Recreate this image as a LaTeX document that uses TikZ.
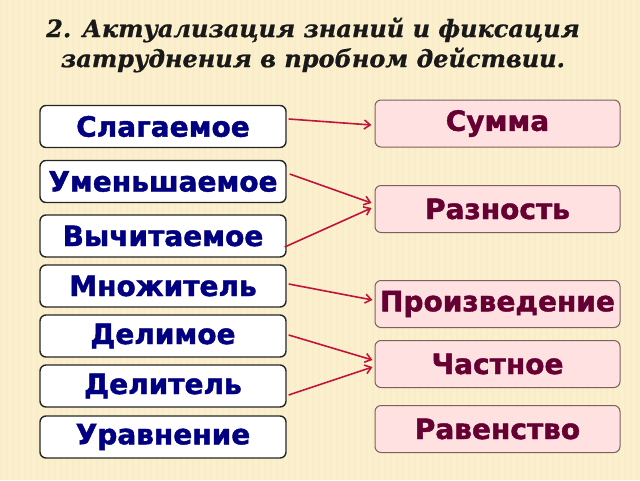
\documentclass[tikz,border=0pt]{standalone}
\usepackage{fontspec}
\usetikzlibrary{arrows.meta}
\newfontfamily\boxfont{DejaVu Sans}[FakeBold=1.5]
\newfontfamily\titlefont{DejaVu Serif}[FakeBold=0.8]
\definecolor{bgcream}{HTML}{FBF0CD}
\definecolor{bgstripe}{HTML}{E8C98A}
\definecolor{leftink}{HTML}{000080}
\definecolor{rightink}{HTML}{660033}
\definecolor{rightfill}{HTML}{FFE1E1}
\definecolor{rightdraw}{HTML}{7A6060}
\definecolor{arrowred}{HTML}{C0143C}
\tikzset{
  leftbox/.style={draw=black!85, line width=1.4pt, fill=white, rounded corners=6pt,
    minimum width=246pt, minimum height=42pt, inner sep=0pt, text=leftink,
    font=\boxfont\bfseries\fontsize{28}{32}\selectfont},
  rightbox/.style={draw=rightdraw, line width=1pt, fill=rightfill, rounded corners=6pt,
    minimum width=245pt, minimum height=47pt, inner sep=0pt, text=rightink,
    font=\boxfont\bfseries\fontsize{28}{32}\selectfont},
  link/.style={draw=arrowred, line width=1.6pt, -{Straight Barb[length=6pt,width=9pt,line width=1.6pt]}},
  titletext/.style={font=\titlefont\bfseries\itshape\fontsize{24}{30}\selectfont, align=center, text=black!90}
}
\begin{document}
\begin{tikzpicture}[x=1pt,y=-1pt]
\fill[bgcream] (0,0) rectangle (640,480);
\foreach \sx in {0,6,...,636} {\fill[bgstripe, opacity=0.08] (\sx,0) rectangle (\sx+2,480);}
\useasboundingbox (0,0) rectangle (640,480);
\node[titletext] (title) at (313,45) {2. Актуализация знаний и фиксация\\затруднения в пробном действии.};
\node[leftbox] (l1) at (163,126.5) {Слагаемое};
\node[leftbox] (l2) at (163,181.5) {Уменьшаемое};
\node[leftbox] (l3) at (163,236) {Вычитаемое};
\node[leftbox] (l4) at (163,286) {Множитель};
\node[leftbox] (l5) at (163,336) {Делимое};
\node[leftbox] (l6) at (163,386) {Делитель};
\node[leftbox] (l7) at (163,437) {Уравнение};
\node[rightbox] (r1) at (497.5,123.5) {Сумма};
\node[rightbox] (r2) at (497.5,209) {Разность};
\node[rightbox] (r3) at (497.5,304) {Произведение};
\node[rightbox] (r4) at (497.5,364) {Частное};
\node[rightbox] (r5) at (497.5,429) {Равенство};
\draw[link] ([xshift=2pt,yshift=7.5pt]l1.east) -- ([xshift=-3pt,yshift=-1.5pt]r1.west);
\draw[link] ([xshift=3pt,yshift=7.5pt]l2.east) -- ([xshift=-3pt,yshift=6pt]r2.west);
\draw[link] ([xshift=-2pt,yshift=-11pt]l3.east) -- ([xshift=-3pt,yshift=1pt]r2.west);
\draw[link] ([xshift=2pt,yshift=2pt]l4.east) -- ([xshift=-2pt,yshift=4pt]r3.west);
\draw[link] ([xshift=2pt,yshift=1pt]l5.east) -- ([xshift=-2pt,yshift=4pt]r4.west);
\draw[link] ([xshift=2pt,yshift=-9pt]l6.east) -- ([xshift=-2pt,yshift=-3pt]r4.west);
\end{tikzpicture}
\end{document}
